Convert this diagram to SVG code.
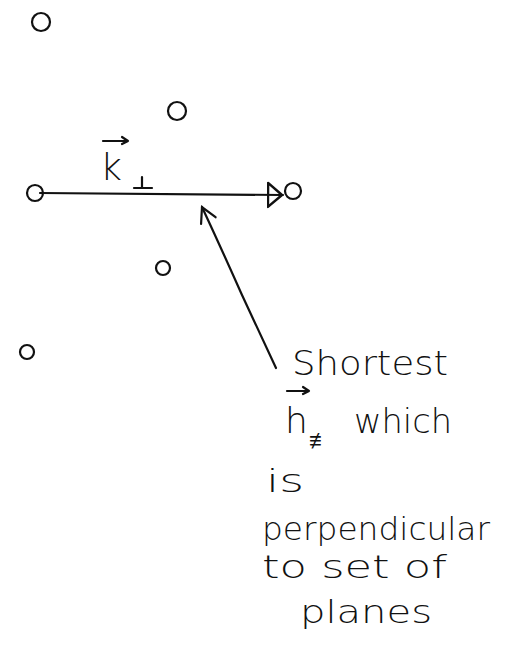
<svg xmlns="http://www.w3.org/2000/svg" width="508" height="650" viewBox="0 0 508 650">
<style>
.pt{fill:none;stroke:#111;stroke-width:2.2}
.ln{fill:none;stroke:#111;stroke-width:2.2;stroke-linecap:round;stroke-linejoin:round}
.hw{font-family:"DejaVu Sans","Liberation Sans",sans-serif;fill:#111;font-weight:300}
</style>
<defs>
<marker id="tri" viewBox="0 0 16 28" refX="16" refY="14" markerWidth="16" markerHeight="28" markerUnits="userSpaceOnUse" orient="auto">
<path d="M1,2 L15,14 L1,26 Z" fill="none" stroke="#111" stroke-width="2.5" stroke-linejoin="round"/>
</marker>
<marker id="open" viewBox="0 0 20 20" refX="18" refY="10" markerWidth="20" markerHeight="20" markerUnits="userSpaceOnUse" orient="auto">
<path d="M3,2 L18,10 L3,18" fill="none" stroke="#111" stroke-width="2.2" stroke-linecap="round"/>
</marker>
</defs>
<rect width="508" height="650" fill="#fff"/>
<g id="points">
<g id="p1"><circle class="pt" cx="41" cy="22" r="9"/></g>
<g id="p2"><circle class="pt" cx="177" cy="111" r="9"/></g>
<g id="p3"><circle class="pt" cx="35" cy="193" r="8"/></g>
<g id="p4"><circle class="pt" cx="293" cy="191" r="8"/></g>
<g id="p5"><circle class="pt" cx="163" cy="268" r="7"/></g>
<g id="p6"><circle class="pt" cx="27" cy="352" r="7"/></g>
</g>
<g id="connectors">
<line class="ln" x1="40" y1="193" x2="283" y2="195" marker-end="url(#tri)"/>
<path class="ln" d="M276,368 L242,295 Q222,250 202,207" marker-end="url(#open)"/>
</g>
<g id="label-k">
<path class="ln" d="M103,141 L128,141 M122,137 L128,141 L122,144" stroke-width="1.8"/>
<text class="hw" x="100" y="180" font-size="38">k</text>
<path class="ln" d="M134,188 L152,188 M142,188 L142,177" stroke-width="2.4"/>
</g>
<g id="annotation">
<text class="hw" x="292" y="375" font-size="34" textLength="156" lengthAdjust="spacingAndGlyphs">Shortest</text>
<path class="ln" d="M287,391 L309,391 M303,387 L309,391 L303,394" stroke-width="1.8"/>
<text class="hw" x="285" y="433" font-size="36">h</text>
<text class="hw" x="309" y="448" font-size="22">≢</text>
<text class="hw" x="354" y="433" font-size="34" textLength="98" lengthAdjust="spacingAndGlyphs">which</text>
<text class="hw" x="266" y="492" font-size="32" textLength="38" lengthAdjust="spacingAndGlyphs">is</text>
<text class="hw" x="262" y="540" font-size="32" textLength="228" lengthAdjust="spacingAndGlyphs">perpendicular</text>
<text class="hw" x="262" y="578" font-size="32" textLength="185" lengthAdjust="spacingAndGlyphs">to set of</text>
<text class="hw" x="300" y="623" font-size="32" textLength="132" lengthAdjust="spacingAndGlyphs">planes</text>
</g>
</svg>
